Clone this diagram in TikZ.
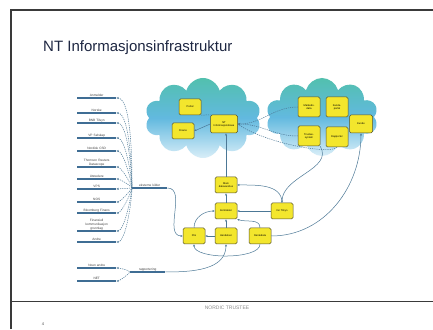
\documentclass[tikz,border=0pt]{standalone}
\usepackage{fontspec}
\setmainfont{Liberation Sans}
\usetikzlibrary{positioning, shapes.symbols, arrows.meta}
\definecolor{frame}{HTML}{3A3A3A}
\definecolor{titleblue}{HTML}{1E2742}
\definecolor{srcblue}{HTML}{3F6D94}
\definecolor{flowblue}{HTML}{4C7896}
\definecolor{boxyellow}{HTML}{F3E62D}
\definecolor{boxedge}{HTML}{55522E}
\definecolor{cloudtop}{HTML}{52C0AE}
\definecolor{cloudmid}{HTML}{62B9DF}
\definecolor{cloudbot}{HTML}{D9EEF8}

\begin{document}
\begin{tikzpicture}[x=1pt, y=1pt, >={Stealth[length=2.4pt, width=2pt]}]
  \tikzstyle{sys}=[draw=boxedge, fill=boxyellow, rounded corners=1.5pt, line width=.5pt, minimum width=22pt, minimum height=16pt, inner sep=1pt, align=center, font=\fontsize{2.6}{3}\selectfont]
  \tikzstyle{cloudbg}=[cloud, cloud puffs=10, aspect=1.6, top color=cloudtop, bottom color=cloudbot, middle color=cloudmid, inner sep=0pt]
  \tikzstyle{flow}=[draw=flowblue, line width=.5pt]
  \tikzstyle{feed}=[flow, dash pattern=on 1.2pt off 1pt]
  \tikzset{fan/.style={feed, <-, looseness=.45}}
  \tikzset{srcline/.style={draw=srcblue, line width=1.2pt}}
  \tikzset{src/.style={anchor=south west, text width=37pt, align=center, inner sep=1pt, text=black!75, font=\fontsize{3.2}{3.8}\selectfont, append after command={(\tikzlastnode.south west) edge[srcline] (\tikzlastnode.south east)}}}
  \tikzset{hublbl/.style={src, text width=33pt}}

  % slide frame
  \useasboundingbox (0,0) rectangle (433,329);
  \fill[white] (0,0) rectangle (433,329);
  \draw[frame, line width=1.2pt] (11,0) -- (11,319) -- (433,319);
  \draw[frame, line width=1pt] (11,28) -- (433,28);
  \node[anchor=west, inner sep=0pt, text=titleblue, font=\fontsize{15}{18}\selectfont] (title) at (43,281) {NT Informasjonsinfrastruktur};
  \node[text=black!45, font=\fontsize{5}{6}\selectfont] (footer) at (227,21) {NORDIC TRUSTEE};
  \node[text=black!70, font=\fontsize{4}{5}\selectfont] (page) at (43,5) {4};

  % clouds
  \node[cloudbg, minimum width=116pt, minimum height=80pt] (cloudL) at (203,211) {};
  \node[cloudbg, minimum width=112pt, minimum height=78pt] (cloudR) at (322,212) {};

  \node[sys] (portal) at (190,222) {Portal};
  \node[sys] (finans) at (183,198) {Finans};
  \node[sys, minimum width=27pt, minimum height=18pt] (info) at (224,205) {NT\\Informasjonsbase};

  \node[sys, minimum height=20pt] (marked) at (309,222) {Markeds-\\data};
  \node[sys, minimum height=20pt] (kport) at (337,222) {Kunde-\\portal};
  \node[sys, minimum height=20pt] (tsys) at (309,193) {Trustee-\\system};
  \node[sys, minimum height=20pt] (rapp) at (337,192) {Rapporter};
  \node[sys, minimum width=23pt, minimum height=18pt] (kunde) at (361,205) {Kunde};

  % internal systems
  \node[sys] (dwh) at (226,144) {Main\\datavarehus};
  \node[sys] (kontr) at (226,118) {Kontrakter};
  \node[sys] (tilsyn) at (282,118) {Inn Tilsyn};
  \node[sys] (pris) at (194,93) {Pris};
  \node[sys] (hend) at (226,93) {Hendelser};
  \node[sys] (rente) at (260,93) {Rentedata};

  % sources
  \node[src] (s1) at (77,231) {Anmelder};
  \node[src] (s2) at (77,216) {Norske};
  \node[src] (s3) at (77,206) {BNB Tilsyn};
  \node[src] (s4) at (77,191) {VP Selskap};
  \node[src] (s5) at (77,178) {Nordisk CSD};
  \node[src] (s6) at (77,162) {Thomson Reuters\\Datascope};
  \node[src] (s7) at (77,150) {Utstedere};
  \node[src] (s8) at (77,140) {VPS};
  \node[src] (s9) at (77,127) {NOS};
  \node[src] (s10) at (77,116) {Bloomberg Finans};
  \node[src] (s11) at (77,98) {Finansiell\\kommunikasjon\\grunnlag};
  \node[src] (s12) at (77,87) {Andre};

  \node[src] (t1) at (77,61) {Noen andre};
  \node[src] (t2) at (77,48) {NET};

  \coordinate (hubA) at (132,141);
  \coordinate (hubB) at (130,57);
  \node[hublbl, above right=0pt and 0pt of hubA] (kilder) {eksterne kilder};
  \node[hublbl, above right=0pt and 0pt of hubB] (rapport) {rapportering};

  \draw[fan] (s1.south east) to[out=0, in=90] (hubA);
  \draw[fan] (s2.south east) to[out=0, in=90] (hubA);
  \draw[fan] (s3.south east) to[out=0, in=90] (hubA);
  \draw[fan] (s4.south east) to[out=0, in=90] (hubA);
  \draw[fan] (s5.south east) to[out=0, in=95] (hubA);
  \draw[fan] (s6.south east) to[out=0, in=100] (hubA);
  \draw[fan] (s7.south east) to[out=0, in=120] (hubA);
  \draw[fan] (s8.south east) -- (hubA);
  \draw[fan] (s9.south east) to[out=0, in=-120] (hubA);
  \draw[fan] (s10.south east) to[out=0, in=-100] (hubA);
  \draw[fan] (s11.south east) to[out=0, in=-95] (hubA);
  \draw[fan] (s12.south east) to[out=0, in=-90] (hubA);
  \draw[fan] (t1.south east) to[out=0, in=120] (hubB);
  \draw[fan] (t2.south east) to[out=0, in=-120] (hubB);

  % flows
  \draw[flow, ->] (kilder.south east) to[out=0, in=180] (pris.west);
  \draw[flow, ->] (rapport.south east) to[out=0, in=-90] (hend.south);
  \draw[flow, ->] (rente.south) to[out=-90, in=-90, looseness=.6] (pris.south);

  \draw[flow, ->] (info.west) -- (finans.east);
  \draw[feed] (portal.south east) -- (info.north west);
  \draw[feed, ->] (marked.west) to[out=180, in=0] (info.east);
  \draw[feed, ->] (tsys.west) to[out=180, in=0] (info.east);
  \draw[feed] (rapp.south) .. controls (330,174) and (264,186) .. (info.east);

  \draw[flow, ->] (dwh.north) -- (dwh.north |- info.south);
  \draw[flow, ->] (kontr) -- (dwh);
  \draw[flow, ->] (tilsyn) -- (kontr);
  \draw[flow, ->] (tilsyn.north) to[out=90, in=0] (dwh.east);
  \draw[flow, ->] (tsys.south east) to[out=-60, in=90] (tilsyn.north);
  \draw[flow, ->] (pris.north) to[out=90, in=180] (kontr.west);
  \draw[flow, ->] (hend) -- (kontr);
  \draw[flow, ->] (hend) -- (pris);
  \draw[flow, ->] (rente.north) to[out=90, in=-20] (kontr.south east);
  \draw[flow, ->] (rente.east) to[out=0, in=-90] (kunde.south);
\end{tikzpicture}
\end{document}
